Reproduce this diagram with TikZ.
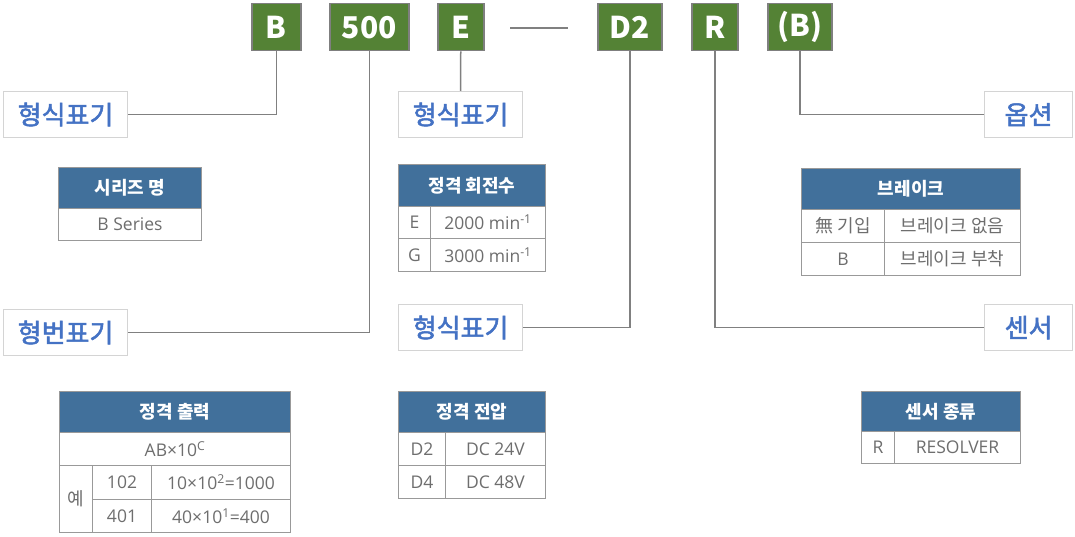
\documentclass[tikz,border=0pt]{standalone}
\usepackage{fontspec}
\setmainfont{Noto Sans CJK KR}
\newfontfamily\latfont{Open Sans}
\usepackage{tikz}

\newcommand\thicktext[1]{\special{pdf:literal 2 Tr 0.5 w}#1\special{pdf:literal 0 Tr}}

\definecolor{codegreen}{HTML}{548235}
\definecolor{codeframe}{HTML}{7F7F7F}
\definecolor{linkgray}{HTML}{808080}
\definecolor{lblblue}{HTML}{4472C4}
\definecolor{lblframe}{HTML}{D4D4D4}
\definecolor{hdrblue}{HTML}{41709B}
\definecolor{cellframe}{HTML}{999999}
\definecolor{celltext}{HTML}{6E6E6E}

\tikzset{
	code/.style={fill=codegreen, draw=codeframe, line width=1.5, text=white, font=\bfseries\fontsize{30}{34}\selectfont, minimum height=47, inner sep=0, anchor=north west},
	tag/.style={fill=white, draw=lblframe, line width=1.2, text=lblblue, font=\fontsize{26}{30}\selectfont, minimum width=124, minimum height=46, inner sep=0, anchor=north west},
	link/.style={draw=linkgray, line width=1.5},
	hdr/.style={fill=hdrblue, draw=cellframe, line width=1, text=white, font=\bfseries\fontsize{18}{22}\selectfont, inner sep=0, anchor=north west},
	cell/.style={fill=white, draw=cellframe, line width=1, text=celltext, font=\latfont\fontsize{17.5}{22}\selectfont, inner sep=0, anchor=north west},
	kcell/.style={cell, font=\fontsize{18}{22}\selectfont}
}

\begin{document}
\begin{tikzpicture}[x=1pt, y=-1pt]
		\useasboundingbox (0,0) rectangle (1075,537);
		
		\node[code, minimum width=49] (cB) at (251,3) {B};
		\node[code, minimum width=79] (c500) at (329,3) {500};
		\node[code, minimum width=46] (cE) at (437,3) {E};
		\node[code, minimum width=64] (cD2) at (597,3) {D2};
		\node[code, minimum width=46] (cR) at (691,3) {R};
		\node[code, minimum width=64] (cOpt) at (767,3) {(B)};
		\coordinate (dashL) at (510,28);
		\coordinate (dashR) at (568,28);
		\draw[link] (dashL) -- (dashR);
		
		\node[tag] (lblType1) at (3,91) {\thicktext{형식표기}};
		\node[tag] (lblType2) at (398,91) {\thicktext{형식표기}};
		\node[tag, minimum width=88] (lblOpt) at (984,91) {\thicktext{옵션}};
		\node[tag] (lblNum) at (3,309) {\thicktext{형번표기}};
		\node[tag] (lblType3) at (398,304) {\thicktext{형식표기}};
		\node[tag, minimum width=88] (lblSensor) at (984,304) {\thicktext{센서}};
		
		\draw[link] (cB.south) |- (lblType1.east);
		\draw[link] (c500.south) |- (lblNum.east);
		\draw[link] (cE.south) -- (lblType2.north);
		\draw[link] (cD2.south) |- (lblType3.east);
		\draw[link] (cR.south) |- (lblSensor.west);
		\draw[link] (cOpt.south) |- (lblOpt.west);
		
		\node[hdr, minimum width=143, minimum height=41] (serH) at (58,167) {시리즈 명};
		\node[cell, minimum width=143, minimum height=32] (serB) at (58,208) {B Series};
		
		\node[hdr, minimum width=147, minimum height=42] (spdH) at (398,164) {정격 회전수};
		\node[cell, minimum width=32, minimum height=32] (spdE) at (398,206) {E};
		\node[cell, minimum width=115, minimum height=32] (spdEv) at (430,206) {2000 min\textsuperscript{-1}};
		\node[cell, minimum width=32, minimum height=33] (spdG) at (398,238) {G};
		\node[cell, minimum width=115, minimum height=33] (spdGv) at (430,238) {3000 min\textsuperscript{-1}};
		
		\node[hdr, minimum width=219, minimum height=41] (brkH) at (801,168) {브레이크};
		\node[kcell, minimum width=83, minimum height=33] (brkN) at (801,209) {無 기입};
		\node[kcell, minimum width=136, minimum height=33] (brkNv) at (884,209) {브레이크 없음};
		\node[cell, minimum width=83, minimum height=33] (brkB) at (801,242) {B};
		\node[kcell, minimum width=136, minimum height=33] (brkBv) at (884,242) {브레이크 부착};
		
		\node[hdr, minimum width=231, minimum height=41] (outH) at (59,391) {정격 출력};
		\node[cell, minimum width=231, minimum height=33] (outF) at (59,432) {AB×10\textsuperscript{C}};
		\node[kcell, minimum width=33, minimum height=67] (outEx) at (59,465) {예};
		\node[cell, minimum width=59, minimum height=34] (out102) at (92,465) {102};
		\node[cell, minimum width=139, minimum height=34] (out102v) at (151,465) {10×10\textsuperscript{2}=1000};
		\node[cell, minimum width=59, minimum height=33] (out401) at (92,499) {401};
		\node[cell, minimum width=139, minimum height=33] (out401v) at (151,499) {40×10\textsuperscript{1}=400};
		
		\node[hdr, minimum width=147, minimum height=41] (volH) at (398,391) {정격 전압};
		\node[cell, minimum width=47, minimum height=33] (volD2) at (398,432) {D2};
		\node[cell, minimum width=100, minimum height=33] (volD2v) at (445,432) {DC 24V};
		\node[cell, minimum width=47, minimum height=33] (volD4) at (398,465) {D4};
		\node[cell, minimum width=100, minimum height=33] (volD4v) at (445,465) {DC 48V};
		
		\node[hdr, minimum width=159, minimum height=40] (senH) at (861,391) {센서 종류};
		\node[cell, minimum width=33, minimum height=32] (senR) at (861,431) {R};
		\node[cell, minimum width=126, minimum height=32] (senRv) at (894,431) {RESOLVER};
	\end{tikzpicture}
\end{document}
